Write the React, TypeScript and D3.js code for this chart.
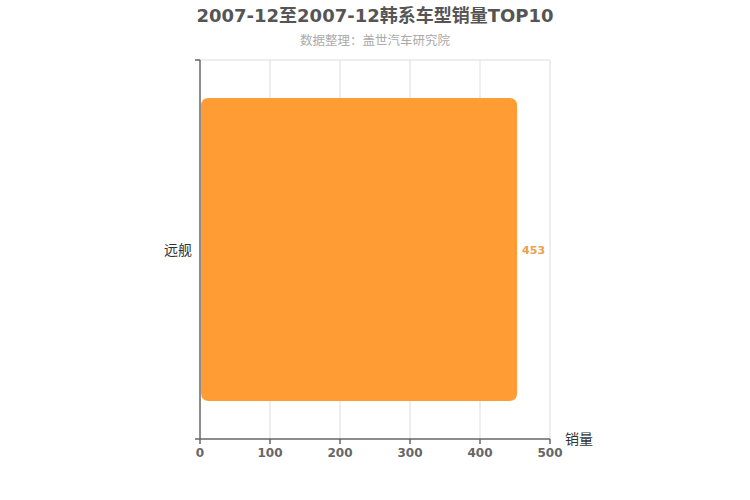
import { useEffect, useRef } from "react";
import * as d3 from "d3";

const categories = ["远舰"];
const sales = [453];
const xTicks = [0, 100, 200, 300, 400, 500];

const W = 750;
const H = 500;
const left = 200;
const right = 550;
const top = 60;
const bottom = 439;
const font = "'DejaVu Sans', 'Noto Sans CJK SC', sans-serif";

export default function App() {
  const ref = useRef<SVGSVGElement>(null);

  useEffect(() => {
    if (!ref.current) return;
    const svg = d3.select(ref.current);
    svg.selectAll("*").remove();

    const x = d3.scaleLinear().domain([0, 500]).range([left, right]);
    const y = d3
      .scaleBand<string>()
      .domain(categories)
      .range([top, bottom])
      .paddingInner(0.2)
      .paddingOuter(0.1);

    // title
    svg.append("text")
      .attr("x", W / 2).attr("y", 22)
      .attr("text-anchor", "middle")
      .attr("font-family", font)
      .attr("font-size", 18).attr("font-weight", "bold")
      .attr("fill", "#555")
      .text("2007-12至2007-12韩系车型销量TOP10");
    svg.append("text")
      .attr("x", W / 2).attr("y", 45)
      .attr("text-anchor", "middle")
      .attr("font-family", font)
      .attr("font-size", 12.5)
      .attr("fill", "#aaa")
      .text("数据整理：盖世汽车研究院");

    // vertical grid
    svg.append("g")
      .selectAll("line")
      .data(xTicks.slice(1))
      .join("line")
      .attr("x1", (d) => x(d)).attr("x2", (d) => x(d))
      .attr("y1", top).attr("y2", bottom)
      .attr("stroke", "#ddd");

    // category boundary line
    svg.append("line")
      .attr("x1", left).attr("x2", right)
      .attr("y1", top).attr("y2", top)
      .attr("stroke", "#ddd");

    // bars
    svg.append("g")
      .selectAll("path")
      .data(sales)
      .join("path")
      .attr("d", (d, i) => {
        const x0 = x(0) + 1;
        const x1 = x(d);
        const y0 = y(categories[i])!;
        const h = y.bandwidth();
        const r = 8;
        return `M${x0 + r},${y0} H${x1 - r} Q${x1},${y0} ${x1},${y0 + r} V${y0 + h - r} Q${x1},${y0 + h} ${x1 - r},${y0 + h} H${x0 + r} Q${x0},${y0 + h} ${x0},${y0 + h - r} V${y0 + r} Q${x0},${y0} ${x0 + r},${y0} Z`;
      })
      .attr("fill", "#ff9c34");

    // value labels
    svg.append("g")
      .selectAll("text")
      .data(sales)
      .join("text")
      .attr("x", (d) => x(d) + 5)
      .attr("y", (d, i) => y(categories[i])! + y.bandwidth() / 2 + 1)
      .attr("dy", "0.35em")
      .attr("font-family", font)
      .attr("font-size", 11).attr("font-weight", "bold")
      .attr("fill", "#eca04a")
      .text((d) => d);

    // y axis
    const ya = svg.append("g");
    ya.append("line")
      .attr("x1", left).attr("x2", left)
      .attr("y1", top).attr("y2", bottom)
      .attr("stroke", "#666").attr("stroke-width", 1.5);
    ya.selectAll("line.tick")
      .data([top, bottom])
      .join("line")
      .attr("class", "tick")
      .attr("x1", left - 5).attr("x2", left)
      .attr("y1", (d) => d).attr("y2", (d) => d)
      .attr("stroke", "#666").attr("stroke-width", 1.5);
    ya.selectAll("text")
      .data(categories)
      .join("text")
      .attr("x", left - 8)
      .attr("y", (d) => y(d)! + y.bandwidth() / 2 + 1)
      .attr("dy", "0.35em")
      .attr("text-anchor", "end")
      .attr("font-family", font)
      .attr("font-size", 14)
      .attr("fill", "#333")
      .text((d) => d);

    // x axis
    const xa = svg.append("g");
    xa.append("line")
      .attr("x1", left).attr("x2", right)
      .attr("y1", bottom).attr("y2", bottom)
      .attr("stroke", "#666").attr("stroke-width", 1.5);
    xa.selectAll("line.tick")
      .data(xTicks)
      .join("line")
      .attr("class", "tick")
      .attr("x1", (d) => x(d)).attr("x2", (d) => x(d))
      .attr("y1", bottom).attr("y2", bottom + 5)
      .attr("stroke", "#666").attr("stroke-width", 1.5);
    xa.selectAll("text")
      .data(xTicks)
      .join("text")
      .attr("x", (d) => x(d))
      .attr("y", bottom + 18)
      .attr("text-anchor", "middle")
      .attr("font-family", font)
      .attr("font-size", 12).attr("font-weight", "bold")
      .attr("fill", "#666")
      .text((d) => d);
    xa.append("text")
      .attr("x", right + 15)
      .attr("y", bottom)
      .attr("dy", "0.35em")
      .attr("font-family", font)
      .attr("font-size", 14)
      .attr("fill", "#333")
      .text("销量");
  }, []);

  return (
    <svg
      ref={ref}
      width={W}
      height={H}
      style={{ position: "absolute", left: 0, top: 0, background: "#fff" }}
    />
  );
}
